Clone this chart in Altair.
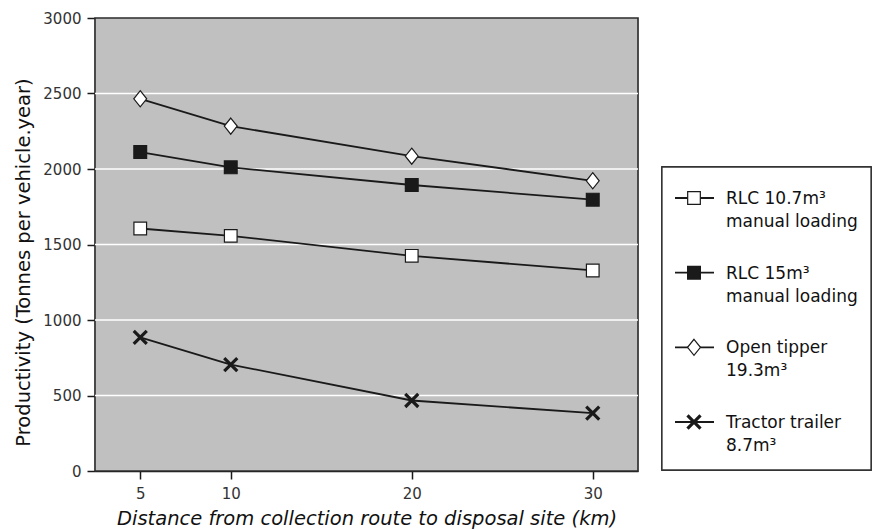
import altair as alt
import pandas as pd

# ---- data ----
distance_km = [5, 10, 20, 30]
series_names = [
    "RLC 10.7m³\nmanual loading",
    "RLC 15m³\nmanual loading",
    "Open tipper\n19.3m³",
    "Tractor trailer\n8.7m³",
]
rlc_10_7 = [1606, 1557, 1425, 1328]
rlc_15 = [2112, 2011, 1894, 1797]
open_tipper = [2465, 2284, 2085, 1922]
tractor_trailer = [885, 705, 467, 383]
y_ticks = [0, 500, 1000, 1500, 2000, 2500, 3000]
x_ticks = [5, 10, 20, 30]
grid_values = [500, 1000, 1500, 2000, 2500]

values_by_series = [rlc_10_7, rlc_15, open_tipper, tractor_trailer]
rows = []
for name, vals in zip(series_names, values_by_series):
    for d, v in zip(distance_km, vals):
        rows.append({"series": name, "distance": d, "value": v})
df = pd.DataFrame(rows)
grid_df = pd.DataFrame({"value": grid_values})
legend_df = pd.DataFrame({"series": series_names})

FONT = "DejaVu Sans"
INK = "#1a1a1a"
DIAMOND = "M0,-1.25L1,0L0,1.25L-1,0Z"
XMARK = "M-1,-1L1,1M-1,1L1,-1"
CROSS_SERIES = series_names[3]

x_scale = alt.Scale(domain=[2.5, 32.5], nice=False, zero=False)
y_scale = alt.Scale(domain=[0, 3000], nice=False)

x_axis = alt.Axis(
    values=x_ticks, grid=False, tickSize=8, tickWidth=1.5, tickColor=INK,
    domainColor=INK, domainWidth=1.5, labelFontSize=15, labelColor="#333",
    labelPadding=7, labelFont=FONT,
    title="Distance from collection route to disposal site (km)",
    titleFontSize=19.5, titleFontStyle="italic", titleFontWeight="normal",
    titleColor="#111", titleFont=FONT, titleBaseline="alphabetic", titleY=53,
)
y_axis = alt.Axis(
    values=y_ticks, format="d", grid=False, tickSize=8, tickWidth=1.5, tickColor=INK,
    domainColor=INK, domainWidth=1.5, labelFontSize=15, labelColor="#333",
    labelPadding=6, labelFont=FONT,
    title="Productivity (Tonnes per vehicle.year)",
    titleFontSize=19.5, titleFontWeight="normal", titleColor="#111", titleFont=FONT,
    titleAngle=270, titleBaseline="alphabetic", titleAlign="center",
    titleX=-66, titleY=244,
)

X = alt.X("distance:Q", scale=x_scale, axis=x_axis)
Y = alt.Y("value:Q", scale=y_scale, axis=y_axis)

shape_enc = alt.Shape("series:N", scale=alt.Scale(domain=series_names, range=["square", "square", DIAMOND, XMARK]), legend=None)
fill_enc = alt.Fill("series:N", scale=alt.Scale(domain=series_names, range=["white", INK, "white", "transparent"]), legend=None)
size_enc = alt.Size("series:N", scale=alt.Scale(domain=series_names, range=[160, 170, 180, 110]), legend=None)

not_cross = alt.datum.series != CROSS_SERIES
is_cross = alt.datum.series == CROSS_SERIES

# plot-area background panel
panel = alt.Chart(legend_df.head(1)).mark_rect(fill="#c0c0c0", stroke="#2b2b2b", strokeWidth=1.6).encode(
    x=alt.value(0), x2=alt.value(543), y=alt.value(0), y2=alt.value(453)
)
grid = alt.Chart(grid_df).mark_rule(color="white", strokeWidth=1.6).encode(
    y=alt.Y("value:Q", scale=y_scale, axis=y_axis)
)
lines = alt.Chart(df).mark_line(color=INK, strokeWidth=1.8).encode(
    x=X, y=Y, detail="series:N"
)
points = alt.Chart(df).transform_filter(not_cross).mark_point(
    opacity=1, stroke=INK, strokeWidth=1.2, filled=True
).encode(x=X, y=Y, shape=shape_enc, fill=fill_enc, size=size_enc)
crosses = alt.Chart(df).transform_filter(is_cross).mark_point(
    opacity=1, stroke=INK, strokeWidth=3.2, filled=False
).encode(x=X, y=Y, shape=shape_enc, size=size_enc)
main = alt.layer(grid, lines, points, crosses)

# ---- legend panel (own y scale for rows) ----
LY = alt.Y("series:N", scale=alt.Scale(type="point", domain=series_names, range=[180, 404], padding=0), axis=None)
box = alt.Chart(legend_df).mark_rect(fill="white", stroke="#333", strokeWidth=1.3).encode(
    x=alt.value(567), x2=alt.value(776), y=alt.value(149), y2=alt.value(452)
)
leg_rule = alt.Chart(legend_df).mark_rule(color=INK, strokeWidth=1.8).encode(
    x=alt.value(580), x2=alt.value(619), y=LY
)
leg_pts = alt.Chart(legend_df).transform_filter(not_cross).mark_point(
    opacity=1, stroke=INK, strokeWidth=1.2, filled=True
).encode(x=alt.value(599), y=LY, shape=shape_enc, fill=fill_enc, size=size_enc)
leg_cross = alt.Chart(legend_df).transform_filter(is_cross).mark_point(
    opacity=1, stroke=INK, strokeWidth=3.2, filled=False
).encode(x=alt.value(599), y=LY, shape=shape_enc, size=size_enc)
leg_text = alt.Chart(legend_df).mark_text(
    align="left", baseline="alphabetic", dy=6, fontSize=17, lineHeight=23,
    lineBreak="\n", font=FONT, color="#111"
).encode(x=alt.value(631), y=LY, text="series:N")
legend = alt.layer(box, leg_rule, leg_pts, leg_cross, leg_text)

chart = alt.layer(panel, main, legend).resolve_scale(y="independent").properties(
    width=543, height=453,
    autosize=alt.AutoSizeParams(type="none"),
    padding={"left": 95, "top": 18, "right": 234, "bottom": 58},
).configure_view(stroke=None).configure(background="white")

chart.save("out.html", embed_options={"renderer": "svg", "actions": False})
